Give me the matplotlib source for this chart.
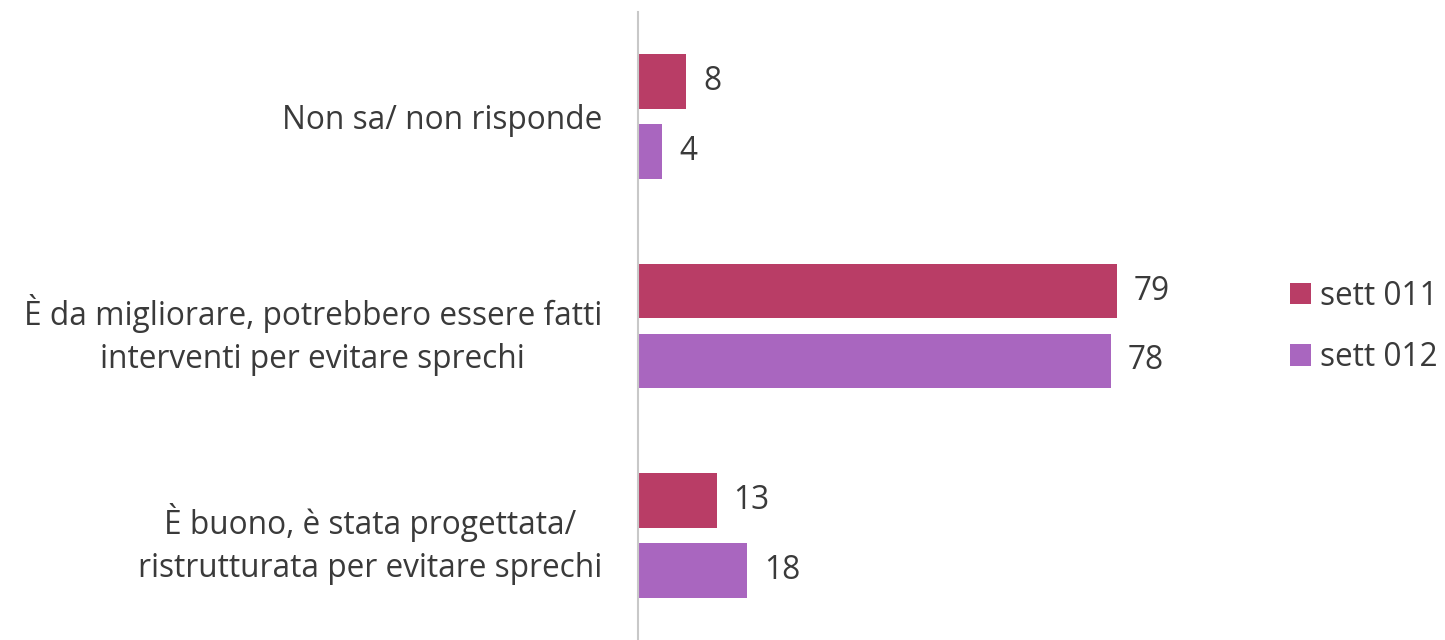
import numpy as np
import matplotlib
matplotlib.use("Agg")
import matplotlib.pyplot as plt

# Data
categories = [
    "Non sa/ non risponde",
    "È da migliorare, potrebbero essere fatti\ninterventi per evitare sprechi",
    "È buono, è stata progettata/\nristrutturata per evitare sprechi",
]
sett_011 = [8, 79, 13]
sett_012 = [4, 78, 18]
series_names = ["sett 011", "sett 012"]
colors = ["#B93D66", "#A966BF"]

plt.rcParams['font.family'] = ['Open Sans', 'DejaVu Sans']
FS = 22.8
TXT = "#3A3A3A"

fig = plt.figure(figsize=(14.45, 6.4), dpi=100)
ax = fig.add_axes([638 / 1445, 0.0, 606 / 1445, 1 - 12 / 640])

y = np.arange(len(categories))
h = 0.262
off = 0.167

bars = []
for vals, dy, col, name in zip([sett_011, sett_012], [-off, off], colors, series_names):
    b = ax.barh(y + dy, vals, height=h, color=col, label=name)
    bars.append(b)
    for yy, v in zip(y + dy, vals):
        ax.annotate(str(v), (v, yy), xytext=(12, 0), textcoords="offset points",
                    va="center", ha="left", fontsize=FS, color=TXT)

ax.set_xlim(0, 100)
ax.set_ylim(2.5, -0.5)
ax.set_yticks(y)
ax.set_yticklabels(categories, fontsize=FS, color=TXT, multialignment="center",
                   linespacing=1.4)
ax.tick_params(axis="y", length=0, pad=26)
ax.set_xticks([])
for s in ["top", "right", "bottom"]:
    ax.spines[s].set_visible(False)
ax.spines["left"].set_color("#C8C8C8")
ax.spines["left"].set_linewidth(1.5)

fig.legend(handles=bars, labels=series_names, loc="center left",
           bbox_to_anchor=(1290 / 1445, 1 - 327 / 640), frameon=False,
           fontsize=FS, handlelength=0.66, handleheight=0.66,
           handletextpad=0.3, labelspacing=0.9, labelcolor=TXT,
           borderpad=0, borderaxespad=0)

fig.savefig("out.png", dpi=100)
